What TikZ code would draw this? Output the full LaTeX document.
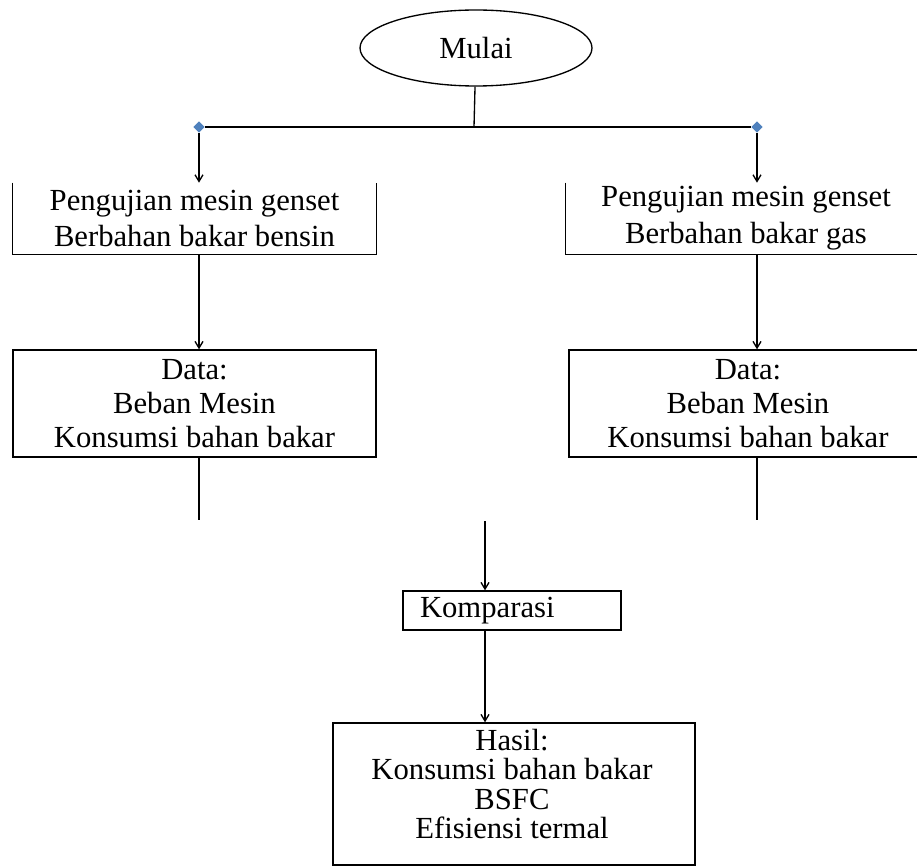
\documentclass[tikz,border=0pt]{standalone}
\usepackage{fontspec}
\setmainfont{Liberation Serif}
\usetikzlibrary{calc,positioning,shapes.geometric,arrows.meta}
\definecolor{dotblue}{RGB}{79,129,189}

\begin{document}
\begin{tikzpicture}[x=0.75pt,y=-0.75pt,
  every node/.style={font=\fontsize{23}{27.7}\selectfont, inner sep=0pt},
  kotak/.style={draw, line width=1pt, rectangle, align=center},
  titik/.style={diamond, fill=dotblue, inner sep=0pt, minimum size=8.5pt},
  garis/.style={line width=1pt},
  alur/.style={-{Straight Barb[length=5pt,width=6pt]}, line width=1pt}]

\useasboundingbox (0,0) rectangle (917,866);

\node(mulai) [ellipse, draw, line width=1pt, minimum width=174pt, minimum height=57pt] at (476,48) {Mulai};

\coordinate(cabang) at (474,127);
\node(kiri) [titik] at (199,127) {};
\node(kanan) [titik] at (757,127) {};

% kotak pengujian (tanpa garis atas)
\node(uji1) [align=center, minimum width=272.25pt, minimum height=53.25pt] at (194.5,218.5) {Pengujian mesin genset\\Berbahan bakar bensin};
\node(uji2) [align=center, minimum width=270pt, minimum height=53.25pt] at (746,218.5) {Pengujian mesin genset\\Berbahan bakar gas};
\draw[garis] (uji1.north west) -- (uji1.south west) -- (uji1.south east) -- (uji1.north east);
\draw[garis] (uji2.north west) -- (uji2.south west) -- (uji2.south east) -- (uji2.north east);

\node(data1) [kotak, minimum width=272.25pt, minimum height=80.25pt, font=\fontsize{23}{25.5}\selectfont] at (194.5,403.5) {Data:\\Beban Mesin\\Konsumsi bahan bakar};
\node(data2) [kotak, minimum width=268.5pt, minimum height=80.25pt, font=\fontsize{23}{25.5}\selectfont] at (748,403.5) {Data:\\Beban Mesin\\Konsumsi bahan bakar};

\node(komp) [kotak, minimum width=163.5pt, minimum height=29.25pt, text width=138pt, inner xsep=12.75pt, align=left] at (512,610.5) {Komparasi};

\node(hasil) [kotak, minimum width=271.5pt, minimum height=106.5pt] at (514,794) {};
\node(hasilteks) [align=center, font=\fontsize{23}{21.9}\selectfont] at (512,784) {Hasil:\\Konsumsi bahan bakar\\BSFC\\Efisiensi termal};

\coordinate(ujung1) at (199,520);
\coordinate(ujung2) at (757,520);
\coordinate(masuk) at (485,521);

\draw[garis] (mulai) -- (cabang);
\draw[garis] (kiri) -- (kanan);
\draw[alur] (kiri) -- (kiri |- uji1.north);
\draw[alur] (kanan) -- (kanan |- uji2.north);
\draw[alur] (kiri |- uji1.south) -- (kiri |- data1.north);
\draw[alur] (kanan |- uji2.south) -- (kanan |- data2.north);
\draw[garis] (kiri |- data1.south) -- (ujung1);
\draw[garis] (kanan |- data2.south) -- (ujung2);
\draw[alur] (masuk) -- (masuk |- komp.north);
\draw[alur] (masuk |- komp.south) -- (masuk |- hasil.north);

\end{tikzpicture}
\end{document}
